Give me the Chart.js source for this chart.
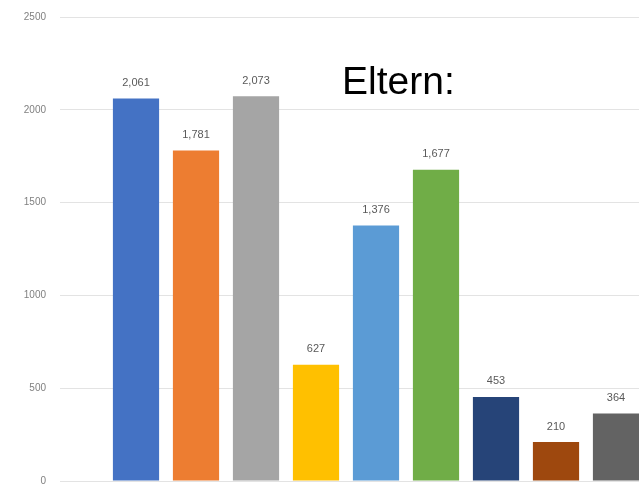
<!DOCTYPE html>
<html>
<head>
<meta charset="utf-8">
<script src="https://cdn.jsdelivr.net/npm/chart.js@4.4.1/dist/chart.umd.min.js"></script>
<style>
html,body{margin:0;padding:0;background:#fff;overflow:hidden;}
#wrap{position:relative;width:646px;height:490px;}
#c{display:block;width:646px;height:490px;}
#title{position:absolute;left:342px;top:61px;font-family:"Liberation Sans",Arial,sans-serif;font-size:39px;color:#000;line-height:1;}
</style>
</head>
<body>
<div id="wrap"><canvas id="c" width="646" height="490"></canvas><div id="title">Eltern:</div></div>
<script>
const categories = ["A","B","C","D","E","F","G","H","I"];
const values = [2061, 1781, 2073, 627, 1376, 1677, 453, 210, 364];
const barColors = ["#4472C4","#ED7D31","#A5A5A5","#FFC000","#5B9BD5","#70AD47","#264478","#9E480E","#636363"];
const yTicks = [0, 500, 1000, 1500, 2000, 2500];

const labelPlugin = {
  id: 'valueLabels',
  afterDatasetsDraw(chart) {
    const ctx = chart.ctx;
    const meta = chart.getDatasetMeta(0);
    ctx.save();
    ctx.font = '11px "Liberation Sans", Arial, sans-serif';
    ctx.fillStyle = '#595959';
    ctx.textAlign = 'center';
    ctx.textBaseline = 'bottom';
    meta.data.forEach((bar, i) => {
      ctx.fillText(values[i].toLocaleString('en-US'), bar.x, bar.y - 10);
    });
    ctx.restore();
  }
};

new Chart(document.getElementById('c'), {
  type: 'bar',
  data: {
    labels: categories,
    datasets: [{
      data: values,
      backgroundColor: barColors,
      borderWidth: 0,
      categoryPercentage: 0.77,
      barPercentage: 1.0
    }]
  },
  options: {
    responsive: false,
    animation: false,
    layout: { padding: { top: 17, bottom: 9, right: 0, left: 0 } },
    plugins: { legend: { display: false }, tooltip: { enabled: false } },
    scales: {
      x: { display: false },
      y: {
        min: 0, max: 2500,
        afterBuildTicks(scale) { scale.ticks = yTicks.map(v => ({ value: v })); },
        afterFit(scale) { scale.width = 106; scale.paddingTop = 0; scale.paddingBottom = 0; },
        border: { display: false },
        grid: { color: '#e3e3e3', lineWidth: 1, drawTicks: true, tickLength: 46, tickColor: '#e3e3e3' },
        ticks: {
          color: '#808080',
          padding: 14,
          font: { family: '"Liberation Sans", Arial, sans-serif', size: 10 },
          callback: (v) => String(v)
        }
      }
    }
  },
  plugins: [labelPlugin]
});
</script>
</body>
</html>
